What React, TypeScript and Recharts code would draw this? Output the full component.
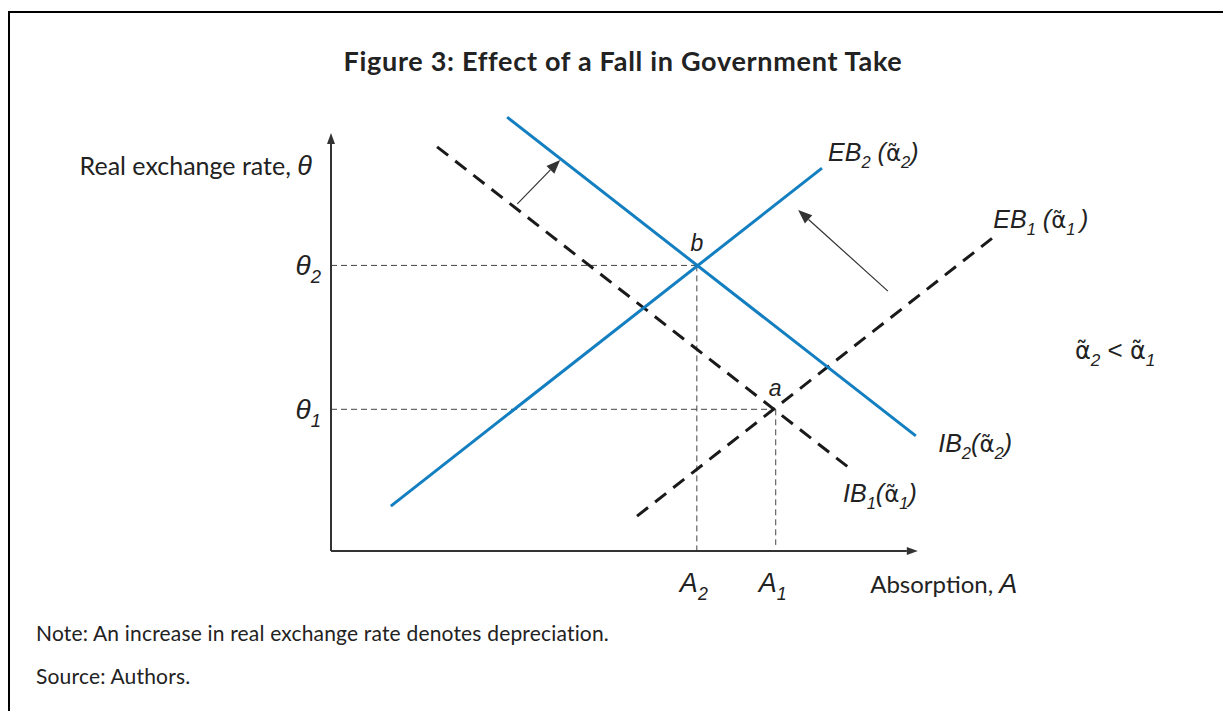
import React from "react";
import { ComposedChart, Line, XAxis, YAxis, ReferenceLine, ReferenceDot } from "recharts";

// curves (data units: absorption on x, real exchange rate on y)
const ib2 = [{ x: 25.9, y: 99.5 }, { x: 86.0, y: 26.4 }];
const eb2 = [{ x: 8.8, y: 10.3 }, { x: 72.2, y: 87.8 }];
const ib1 = [{ x: 15.6, y: 92.7 }, { x: 76.0, y: 19.3 }];
const eb1 = [{ x: 45.0, y: 8.0 }, { x: 97.2, y: 71.7 }];

// equilibria
const pointA = { x: 65.4, y: 32.5 };
const pointB = { x: 53.8, y: 65.5 };

const xTicks = [pointB.x, pointA.x];
const xTickLabels = [["A", "2"], ["A", "1"]];
const yTicks = [pointA.y, pointB.y];
const yTickLabels = [["θ", "1"], ["θ", "2"]];

const axisEnds = { x: 86.3, y: 95.9 };

const shiftArrows = [
  [{ x: 27.4, y: 79.6 }, { x: 33.7, y: 89.7 }],
  [{ x: 81.9, y: 59.6 }, { x: 68.7, y: 78.2 }],
];

type Part = { t: string; sub?: boolean; up?: boolean; font?: string; size?: number };

const ITAL = "'Liberation Sans', Arial, sans-serif";
const BODY = "Lato, 'Open Sans', sans-serif";
const GREEK = "'DejaVu Sans', sans-serif";
const BLUE = "#137fc0";

const annotations: { x: number; y: number; size: number; anchor?: string; parts: Part[] }[] = [
  { x: 73.1, y: 89.4, size: 25, parts: [{ t: "EB" }, { t: "2", sub: true }, { t: " (" }, { t: "α̃", up: true, font: GREEK, size: 23 }, { t: "2", sub: true }, { t: ")" }] },
  { x: 97.4, y: 74.1, size: 25, parts: [{ t: "EB" }, { t: "1", sub: true }, { t: " (" }, { t: "α̃", up: true, font: GREEK, size: 23 }, { t: "1 ", sub: true }, { t: ")" }] },
  { x: 89.3, y: 22.7, size: 25, parts: [{ t: "IB" }, { t: "2", sub: true }, { t: "(" }, { t: "α̃", up: true, font: GREEK, size: 23 }, { t: "2", sub: true }, { t: ")" }] },
  { x: 75.3, y: 11.2, size: 25, parts: [{ t: "IB" }, { t: "1", sub: true }, { t: "(" }, { t: "α̃", up: true, font: GREEK, size: 23 }, { t: "1", sub: true }, { t: ")" }] },
  { x: 65.3, y: 35.6, size: 23, anchor: "middle", parts: [{ t: "a" }] },
  { x: 53.8, y: 68.8, size: 23, anchor: "middle", parts: [{ t: "b" }] },
  { x: 109.4, y: 44.0, size: 26, parts: [{ t: "α̃", up: true, font: GREEK, size: 24 }, { t: "2", sub: true }, { t: " < ", up: true }, { t: "α̃", up: true, font: GREEK, size: 24 }, { t: "1", sub: true }] },
  { x: 79.3, y: -9.6, size: 27, parts: [{ t: "Absorption, ", up: true, font: BODY, size: 24 }, { t: "A" }] },
  { x: -2.8, y: 86.2, size: 27, anchor: "end", parts: [{ t: "Real exchange rate, ", up: true, font: BODY, size: 25 }, { t: "θ" }] },
];

const RichText = ({ x, y, parts, size, anchor = "start" }: any) => {
  let shifted = false;
  const off = size * 0.28;
  return (
    <text x={x} y={y} fontSize={size} textAnchor={anchor} fontFamily={ITAL} fontStyle="italic" fill="#222">
      {parts.map((p: Part, i: number) => {
        const dy = p.sub && !shifted ? off : !p.sub && shifted ? -off : 0;
        shifted = !!p.sub;
        return (
          <tspan
            key={i}
            dy={dy}
            fontSize={p.sub ? size * 0.66 : p.size ?? size}
            fontStyle={p.up ? "normal" : undefined}
            fontFamily={p.font}
          >
            {p.t}
          </tspan>
        );
      })}
    </text>
  );
};

const Arrow = ({ x1, y1, x2, y2, color, width, len, half }: any) => {
  const ang = Math.atan2(y2 - y1, x2 - x1);
  const bx = x2 - len * Math.cos(ang);
  const by = y2 - len * Math.sin(ang);
  const px = -Math.sin(ang) * half;
  const py = Math.cos(ang) * half;
  return (
    <g>
      <line x1={x1} y1={y1} x2={bx} y2={by} stroke={color} strokeWidth={width} />
      <polygon points={`${x2},${y2} ${bx + px},${by + py} ${bx - px},${by - py}`} fill={color} />
    </g>
  );
};

const XTick = ({ x, y, payload }: any) => {
  const lab = xTickLabels[xTicks.indexOf(payload.value)] ?? ["", ""];
  return <RichText x={x - 3} y={y + 41} size={27} anchor="middle" parts={[{ t: lab[0] }, { t: lab[1], sub: true }]} />;
};

const YTick = ({ x, y, payload }: any) => {
  const lab = yTickLabels[yTicks.indexOf(payload.value)] ?? ["", ""];
  return <RichText x={x - 10} y={y + 10} size={28} anchor="end" parts={[{ t: lab[0] }, { t: lab[1], sub: true }]} />;
};

const guide = { stroke: "#444", strokeWidth: 1, strokeDasharray: "6 4" };

export default function App() {
  return (
    <div style={{ position: "absolute", left: 0, top: 0, width: 1223, height: 711, background: "#fff", fontFamily: BODY, color: "#222", overflow: "hidden" }}>
      <div style={{ position: "absolute", left: 8, top: 11, width: 1214, height: 700, borderTop: "2px solid #000", borderLeft: "2px solid #000" }} />
      <div style={{ position: "absolute", left: 0, top: 48, width: 1246, textAlign: "center", fontWeight: 700, fontSize: 27, lineHeight: "26px", letterSpacing: 0.7 }}>
        Figure 3: Effect of a Fall in Government Take
      </div>
      <div style={{ position: "absolute", left: 0, top: 0 }}>
        <ComposedChart width={1223} height={711} margin={{ top: 115, right: 212, bottom: 100, left: 251 }}>
          <XAxis dataKey="x" type="number" domain={[0, 100]} ticks={xTicks} interval={0} axisLine={false} tickLine={false} tickSize={0} tickMargin={0} height={60} tick={<XTick />} />
          <YAxis type="number" domain={[0, 100]} ticks={yTicks} interval={0} axisLine={false} tickLine={false} tickSize={0} tickMargin={0} width={80} tick={<YTick />} />

          <ReferenceLine segment={[{ x: 0, y: pointB.y }, { x: pointB.x, y: pointB.y }]} {...guide} ifOverflow="visible" />
          <ReferenceLine segment={[{ x: pointB.x, y: pointB.y }, { x: pointB.x, y: 0 }]} {...guide} ifOverflow="visible" />
          <ReferenceLine segment={[{ x: 0, y: pointA.y }, { x: pointA.x, y: pointA.y }]} {...guide} ifOverflow="visible" />
          <ReferenceLine segment={[{ x: pointA.x, y: pointA.y }, { x: pointA.x, y: 1.4 }]} {...guide} ifOverflow="visible" />

          <ReferenceLine segment={[{ x: 0, y: 0 }, { x: 0, y: axisEnds.y }]} ifOverflow="visible" shape={(p: any) => <Arrow {...p} color="#333" width={2} len={11} half={4} />} />
          <ReferenceLine segment={[{ x: 0, y: 0 }, { x: axisEnds.x, y: 0 }]} ifOverflow="visible" shape={(p: any) => <Arrow {...p} color="#333" width={2} len={11} half={4} />} />

          {shiftArrows.map((s, i) => (
            <ReferenceLine key={i} segment={s} ifOverflow="visible" shape={(p: any) => <Arrow {...p} color="#333" width={1.2} len={14} half={5.5} />} />
          ))}

          <Line data={ib1} dataKey="y" type="linear" stroke="#1a1a1a" strokeWidth={3} strokeDasharray="14 9" dot={false} activeDot={false} isAnimationActive={false} />
          <Line data={eb1} dataKey="y" type="linear" stroke="#1a1a1a" strokeWidth={3} strokeDasharray="14 9" dot={false} activeDot={false} isAnimationActive={false} />
          <Line data={ib2} dataKey="y" type="linear" stroke={BLUE} strokeWidth={3} dot={false} activeDot={false} isAnimationActive={false} />
          <Line data={eb2} dataKey="y" type="linear" stroke={BLUE} strokeWidth={3} dot={false} activeDot={false} isAnimationActive={false} />

          {annotations.map((a, i) => (
            <ReferenceDot
              key={"an" + i}
              x={a.x}
              y={a.y}
              r={0}
              ifOverflow="visible"
              shape={(p: any) => <RichText x={p.cx} y={p.cy} size={a.size} anchor={a.anchor} parts={a.parts} />}
            />
          ))}
        </ComposedChart>
      </div>
      <div style={{ position: "absolute", left: 36, top: 622, fontSize: 21, lineHeight: "22px", letterSpacing: 0.18 }}>
        Note: An increase in real exchange rate denotes depreciation.
      </div>
      <div style={{ position: "absolute", left: 36, top: 665, fontSize: 21, lineHeight: "22px", letterSpacing: 0.18 }}>
        Source: Authors.
      </div>
    </div>
  );
}
